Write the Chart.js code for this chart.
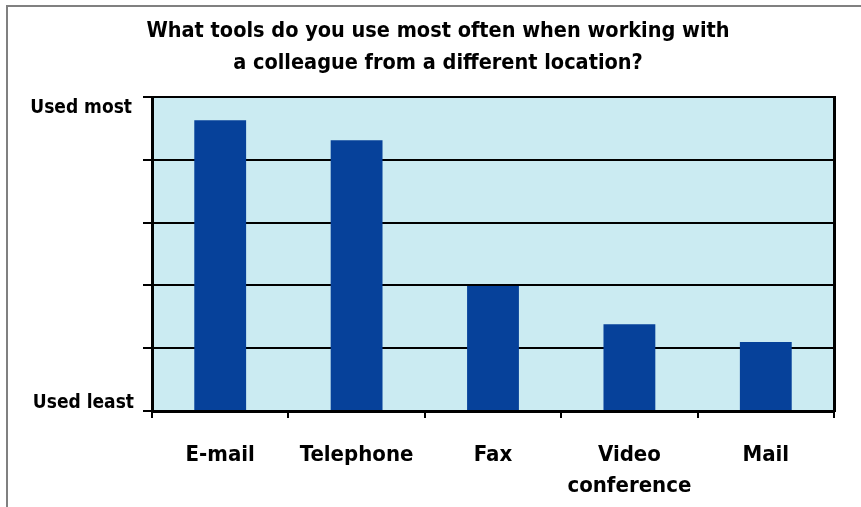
<!DOCTYPE html>
<html>
<head>
<meta charset="utf-8">
<script src="https://cdn.jsdelivr.net/npm/chart.js@4.4.1/dist/chart.umd.min.js"></script>
<style>
  html, body { margin: 0; padding: 0; background: #ffffff; }
  canvas { display: block; }
</style>
</head>
<body>
<canvas id="c" width="861" height="507"></canvas>
<script>
const categories = [["E-mail"], ["Telephone"], ["Fax"], ["Video", "conference"], ["Mail"]];
const values = [4.63, 4.31, 1.99, 1.38, 1.10];
const yTickLabels = ["Used least", "Used most"];
const titleLines = ["What tools do you use most often when working with", "a colleague from a different location?"];

const FONT = "'Liberation Sans Narrow', 'DejaVu Sans Condensed', 'Arial Narrow', sans-serif";

const decor = {
  id: 'decor',
  beforeDraw(chart) {
    const ctx = chart.ctx, a = chart.chartArea;
    ctx.save();
    ctx.fillStyle = '#ffffff';
    ctx.fillRect(0, 0, chart.width, chart.height);
    ctx.fillStyle = '#808080';
    ctx.fillRect(6, 5, chart.width - 6, 2);
    ctx.fillRect(6, 5, 2, chart.height - 5);
    ctx.fillStyle = '#cbebf2';
    ctx.fillRect(a.left, a.top, a.right - a.left, a.bottom - a.top);
    ctx.restore();
  },
  afterDraw(chart) {
    const ctx = chart.ctx, y = chart.scales.y;
    ctx.save();
    ctx.fillStyle = '#000000';
    ctx.textAlign = 'center';
    ctx.textBaseline = 'middle';
    ctx.font = "bold 21.5px " + FONT;
    ctx.fillText(titleLines[0], 438, 31);
    ctx.fillText(titleLines[1], 438, 63);
    ctx.font = "bold 19px " + FONT;
    ctx.textAlign = 'right';
    ctx.fillText(yTickLabels[1], 132, y.getPixelForValue(5) + 11);
    ctx.fillText(yTickLabels[0], 134, y.getPixelForValue(0) - 8);
    ctx.restore();
  }
};

new Chart(document.getElementById('c'), {
  type: 'bar',
  data: {
    labels: categories,
    datasets: [{
      data: values,
      backgroundColor: '#06419a',
      categoryPercentage: 1,
      barPercentage: 0.38
    }]
  },
  options: {
    responsive: false,
    animation: false,
    devicePixelRatio: 1,
    layout: { padding: { top: 97, right: 27, left: 0, bottom: 0 } },
    plugins: { legend: { display: false }, tooltip: { enabled: false }, title: { display: false } },
    scales: {
      x: {
        grid: { drawOnChartArea: false, drawTicks: true, tickLength: 7, color: '#000', lineWidth: 2, offset: true },
        border: { display: true, color: '#000', width: 3 },
        ticks: { color: '#000', font: { family: FONT, size: 22, weight: 'bold', lineHeight: 1.41 }, padding: 22, maxRotation: 0, autoSkip: false },
        afterFit(s) { s.height = 96; }
      },
      y: {
        min: 0, max: 5,
        ticks: { stepSize: 1, display: false },
        grid: { color: '#000', lineWidth: 2, tickLength: 9, drawTicks: true },
        border: { display: true, color: '#000', width: 3 },
        afterFit(s) { s.width = 152; }
      },
      y2: {
        position: 'right',
        min: 0, max: 5,
        ticks: { display: false },
        grid: { display: false, drawTicks: false },
        border: { display: true, color: '#000', width: 3 },
        afterFit(s) { s.width = 0; }
      }
    }
  },
  plugins: [decor]
});
</script>
</body>
</html>
